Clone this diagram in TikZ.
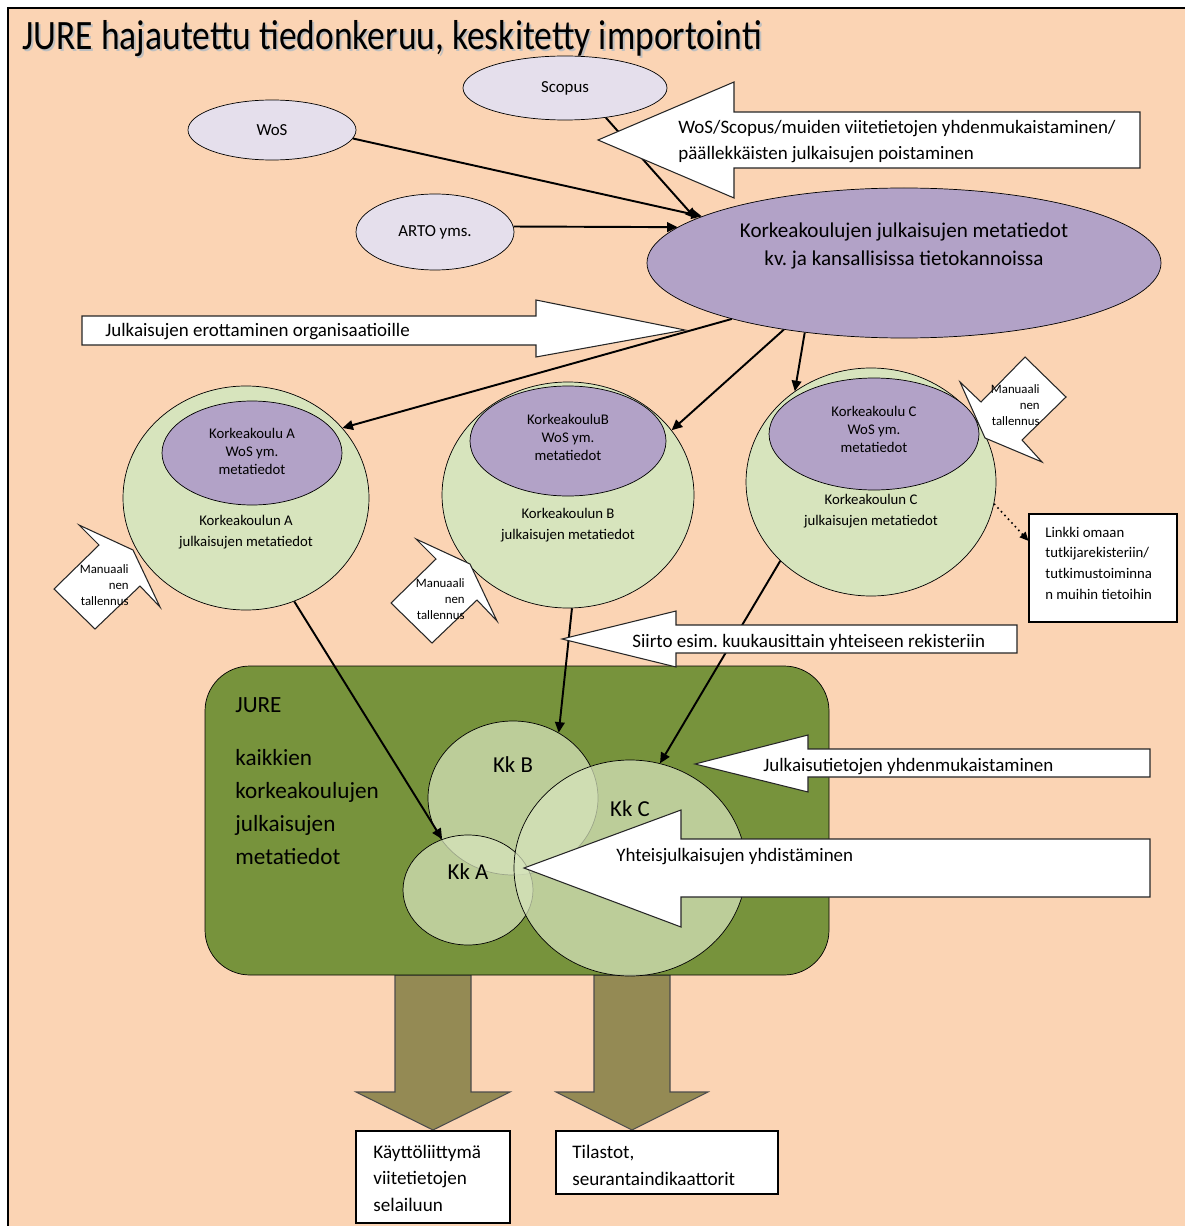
\documentclass[tikz,border=0pt]{standalone}
\usepackage{fontspec}
\setmainfont{Carlito}
\newfontfamily\titlefont[FakeStretch=0.85]{Carlito}
\usetikzlibrary{shapes.geometric, arrows.meta}

\definecolor{peach}{HTML}{FBD4B4}
\definecolor{lavender}{HTML}{E5DFEC}
\definecolor{lilac}{HTML}{B2A2C7}
\definecolor{palegreen}{HTML}{D7E4BD}
\definecolor{juregreen}{HTML}{77933C}
\definecolor{khaki}{HTML}{948A54}

\tikzset{
  dims/.style 2 args={minimum width=#1*0.02cm, minimum height=#2*0.02cm},
  source/.style={ellipse, draw, fill=lavender, inner sep=0pt, font=\fontsize{9.6}{11}\selectfont},
  metadb/.style={ellipse, draw, fill=lilac, inner sep=0pt},
  school/.style={ellipse, draw, fill=palegreen, inner sep=0pt},
  kkset/.style={ellipse, draw, fill=palegreen, fill opacity=0.72, inner sep=0pt},
  feed/.style={line width=1.1pt, -{Triangle[length=6pt, width=5.5pt]}},
  blockarrow/.style={draw=black!85, fill=white, line width=0.6pt},
  drop/.style={draw=black!70, fill=khaki, line width=0.6pt},
  note/.style={draw, fill=white, line width=0.6pt, inner sep=0pt},
  label/.style={inner sep=0pt},
  midtext/.style={label, anchor=base west, align=left, font=\fontsize{10.8}{15.3}\selectfont},
  innertext/.style={label, anchor=base, align=center, font=\fontsize{8.4}{10.2}\selectfont},
  outertext/.style={label, anchor=base, align=center, font=\fontsize{8.4}{11.9}\selectfont},
  manualtext/.style={label, anchor=base east, align=right, font=\fontsize{7.3}{9}\selectfont},
  kktext/.style={label, anchor=base, font=\fontsize{13}{15}\selectfont},
}

\begin{document}
\begin{tikzpicture}[x=0.02cm, y=-0.02cm]
  \useasboundingbox (0,0) rectangle (1185,1226);
  \fill[peach] (8,8) rectangle (1185,1226);
  \draw[line width=0.8pt] (8,1226) -- (8,8) -- (1185,8);

  % otsikko (monirivisissa solmuissa base = viimeisen rivin pohjaviiva)
  \node[label, anchor=base west, text=black!25, font=\titlefont\fontsize{23.8}{28}\selectfont] at (24,52)
    {JURE hajautettu tiedonkeruu, keskitetty importointi};
  \node[label, anchor=base west, font=\titlefont\fontsize{23.8}{28}\selectfont] (title) at (22,50)
    {JURE hajautettu tiedonkeruu, keskitetty importointi};

  % lahteet ja kansainvaliset tietokannat
  \node[source, dims={204}{64}] (scopus) at (565,88)  {Scopus};
  \node[source, dims={168}{60}] (wos)    at (272,130) {WoS};
  \node[source, dims={158}{76}] (arto)   at (435,232) {ARTO yms.};
  \node[metadb, dims={514}{150}] (kv) at (904,263) {};
  \node[label, anchor=base, align=center, font=\fontsize{12}{16.4}\selectfont] (kv-text) at (904,266)
    {Korkeakoulujen julkaisujen metatiedot\\kv.\ ja kansallisissa tietokannoissa};

  \draw[feed] (wos.-6)     -- (kv.167);
  \draw[feed] (scopus.-36) -- (kv.168);
  \draw[feed] (arto.4)     -- (kv.171);

  \draw[blockarrow] (598,140) -- (734,82) -- (734,112) -- (1140,112) -- (1140,168)
    -- (734,168) -- (734,198) -- cycle;
  \node[midtext] (harmonize) at (678,160)
    {WoS/Scopus/muiden viitetietojen yhdenmukaistaminen/\\päällekkäisten julkaisujen poistaminen};

  \draw[blockarrow] (82,316) -- (536,316) -- (536,300) -- (685,330) -- (536,357)
    -- (536,345) -- (82,345) -- cycle;
  \node[midtext] (separate) at (105,337) {Julkaisujen erottaminen organisaatioille};

  % korkeakoulut
  \node[school, dims={246}{224}] (school-a) at (246,498) {};
  \node[metadb, dims={180}{104}] (wos-a) at (252,453) {};
  \node[innertext] (wos-a-text) at (252,474) {Korkeakoulu A\\WoS ym.\\metatiedot};
  \node[outertext] (school-a-text) at (246,546) {Korkeakoulun A\\julkaisujen metatiedot};

  \node[school, dims={252}{226}] (school-b) at (568,495) {};
  \node[metadb, dims={196}{110}] (wos-b) at (568,441) {};
  \node[innertext] (wos-b-text) at (568,460) {KorkeakouluB\\WoS ym.\\metatiedot};
  \node[outertext] (school-b-text) at (568,539) {Korkeakoulun B\\julkaisujen metatiedot};

  \node[school, dims={250}{228}] (school-c) at (871,482) {};
  \node[metadb, dims={210}{112}] (wos-c) at (874,434) {};
  \node[innertext] (wos-c-text) at (874,452) {Korkeakoulu C\\WoS ym.\\metatiedot};
  \node[outertext] (school-c-text) at (871,525) {Korkeakoulun C\\julkaisujen metatiedot};

  \draw[feed] (kv.198) -- (school-a.36);
  \draw[feed] (kv.209) -- (school-b.32);
  \draw[feed] (kv.215) -- (school-c.130);

  % manuaalinen tallennus
  \draw[blockarrow] (79,525) -- (133,550) -- (160,607) -- (140,586) -- (95,629)
    -- (54,589) -- (99,545) -- cycle;
  \node[manualtext] (manual-a) at (129,605) {Manuaali\\nen\\tallennus};
  \draw[blockarrow] (416,539) -- (470,564) -- (497,621) -- (477,600) -- (432,643)
    -- (391,603) -- (436,559) -- cycle;
  \node[manualtext] (manual-b) at (465,619) {Manuaali\\nen\\tallennus};
  \draw[blockarrow] (985,438) -- (960,382) -- (981,402) -- (1025,357) -- (1066,397)
    -- (1022,440) -- (1042,462) -- cycle;
  \node[manualtext] (manual-c) at (1040,425) {Manuaali\\nen\\tallennus};

  \node[note, dims={148}{108}] (linkki) at (1103,568) {};
  \node[label, anchor=base west, align=left, font=\fontsize{8.4}{11.7}\selectfont] (linkki-text) at (1045,599)
    {Linkki omaan\\tutkijarekisteriin/\\tutkimustoiminna\\n muihin tietoihin};
  \draw[dotted, line width=0.9pt, -{Triangle[length=5pt, width=4.5pt]}] (school-c.-10) -- (linkki.160);

  % JURE
  \draw[drop] (395,975) -- (471,975) -- (471,1092) -- (510,1092) -- (433,1130)
    -- (356,1092) -- (395,1092) -- cycle;
  \draw[drop] (594,975) -- (670,975) -- (670,1092) -- (708,1092) -- (632,1130)
    -- (556,1092) -- (594,1092) -- cycle;

  \node[draw, fill=juregreen, rounded corners=0.9cm, dims={624}{309}] (jure) at (517,820.5) {};
  \node[label, anchor=base west, font=\fontsize{13.2}{18.7}\selectfont] (jure-title) at (235,712) {JURE};
  \node[label, anchor=base west, align=left, font=\fontsize{13.2}{18.7}\selectfont] (jure-text) at (235,864)
    {kaikkien\\korkeakoulujen\\julkaisujen\\metatiedot};

  \node[kkset, dims={170}{154}] (kk-b) at (513,798) {};
  \node[kkset, dims={130}{110}] (kk-a) at (468,890) {};
  \node[kkset, dims={232}{216}] (kk-c) at (630,868) {};
  \node[kktext] (kk-b-text) at (513,772) {Kk B};
  \node[kktext] (kk-c-text) at (630,816) {Kk C};
  \node[kktext] (kk-a-text) at (468,879) {Kk A};

  \draw[feed] (school-a.-65) -- (kk-a.117);
  \draw[feed] (school-b.-88) -- (kk-b.55);
  \draw[feed] (school-c.221) -- (kk-c.74);

  \draw[blockarrow] (562,639) -- (676,611) -- (676,625) -- (1017,625) -- (1017,653)
    -- (676,653) -- (676,667) -- cycle;
  \node[midtext] (transfer) at (632,647) {Siirto esim.\ kuukausittain yhteiseen rekisteriin};

  \draw[blockarrow] (695,764) -- (808,735) -- (808,749) -- (1150,749) -- (1150,777)
    -- (808,777) -- (808,792) -- cycle;
  \node[midtext] (unify) at (763,771) {Julkaisutietojen yhdenmukaistaminen};

  \draw[blockarrow] (524,868) -- (681,810) -- (681,839) -- (1150,839) -- (1150,897)
    -- (681,897) -- (681,927) -- cycle;
  \node[midtext] (merge) at (616,861) {Yhteisjulkaisujen yhdistäminen};

  % tulosteet
  \node[note, dims={154}{92}] (ui) at (433,1177) {};
  \node[label, anchor=base west, align=left, font=\fontsize{10.9}{15}\selectfont] (ui-text) at (373,1211)
    {Käyttöliittymä\\viitetietojen\\selailuun};
  \node[note, dims={222}{63}] (stats) at (667,1162.5) {};
  \node[label, anchor=base west, align=left, font=\fontsize{10.9}{15}\selectfont] (stats-text) at (572,1185)
    {Tilastot,\\seurantaindikaattorit};
\end{tikzpicture}
\end{document}
